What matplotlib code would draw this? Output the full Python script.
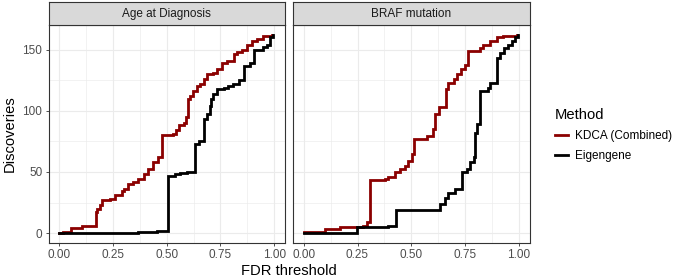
import numpy as np
import matplotlib
matplotlib.use("Agg")
import matplotlib.pyplot as plt
from matplotlib.lines import Line2D

plt.rcParams["font.family"] = ["Liberation Sans", "DejaVu Sans"]

# ---- data ----
panels = ["Age at Diagnosis", "BRAF mutation"]
methods = ["KDCA (Combined)", "Eigengene"]
colors = {"KDCA (Combined)": "#8B0000", "Eigengene": "#000000"}

age_kdca_x = [0, 0.019, 0.054, 0.104, 0.169, 0.177, 0.189, 0.200, 0.236, 0.259,
              0.290, 0.301, 0.321, 0.342, 0.368, 0.396, 0.415, 0.438, 0.457, 0.480,
              0.531, 0.543, 0.557, 0.578, 0.589, 0.598, 0.609, 0.624, 0.640, 0.655,
              0.671, 0.686, 0.717, 0.733, 0.756, 0.780, 0.811, 0.826, 0.849, 0.873,
              0.896, 0.919, 0.950, 0.989]
age_kdca_y = [0, 1, 4, 6, 17, 20, 23, 27, 28, 31, 34, 36, 40, 41.5, 44, 48, 52, 58,
              62, 80, 81, 84, 88, 90, 95, 110, 112, 116, 120, 122, 126, 130, 131,
              134, 139, 141, 146, 148, 150, 154, 157, 159, 161, 162]

age_eig_x = [0, 0.368, 0.453, 0.505, 0.539, 0.562, 0.593, 0.630, 0.652, 0.671,
             0.686, 0.699, 0.707, 0.717, 0.733, 0.764, 0.787, 0.810, 0.834, 0.857,
             0.888, 0.904, 0.950, 0.966, 0.978, 0.992]
age_eig_y = [0, 1, 2, 47, 48, 49, 50, 73, 75.5, 93, 97, 104, 109.5, 113.5, 117.6,
             119, 120, 122, 125, 136.6, 139, 150, 152, 154, 160, 162]

braf_kdca_x = [0, 0.099, 0.169, 0.277, 0.293, 0.308, 0.378, 0.393, 0.425, 0.448,
               0.471, 0.487, 0.502, 0.512, 0.572, 0.603, 0.611, 0.631, 0.662, 0.673,
               0.697, 0.715, 0.732, 0.751, 0.762, 0.821, 0.836, 0.867, 0.898, 0.929,
               0.990]
braf_kdca_y = [1, 3, 5, 6, 9, 43, 44, 46, 50, 52, 55, 59, 64.5, 77, 79.5, 85, 97,
               103, 117.5, 123, 126, 130, 134, 137, 149, 151, 154, 157, 160, 161.5,
               162]

braf_eig_x = [0, 0.249, 0.394, 0.430, 0.634, 0.658, 0.673, 0.704, 0.735, 0.759,
              0.774, 0.790, 0.797, 0.805, 0.821, 0.859, 0.867, 0.898, 0.914, 0.932,
              0.952, 0.968, 0.984, 0.995]
braf_eig_y = [0, 5, 6, 18.5, 24, 29, 33, 36, 49.7, 52, 58, 62, 82, 89, 116, 119,
              123, 143.5, 147.5, 151.5, 154, 157, 160, 162]

curves = {
    "Age at Diagnosis": {"KDCA (Combined)": (age_kdca_x, age_kdca_y),
                         "Eigengene": (age_eig_x, age_eig_y)},
    "BRAF mutation": {"KDCA (Combined)": (braf_kdca_x, braf_kdca_y),
                      "Eigengene": (braf_eig_x, braf_eig_y)},
}

W, H = 680, 280
fig = plt.figure(figsize=(W / 100, H / 100), dpi=100)

panel_left = [48.5, 293.0]
panel_w = 236.5
panel_top, panel_bot = 25.0, 243.0
strip_top = 2.0
LW = 2.0

grid_col = "#ebebeb"
for i, name in enumerate(panels):
    l = panel_left[i] / W
    ax = fig.add_axes([l, (H - panel_bot) / H, panel_w / W, (panel_bot - panel_top) / H])
    for m in methods:
        x, y = curves[name][m]
        ax.plot(x, y, drawstyle="steps-post", color=colors[m], lw=LW,
                solid_joinstyle="miter", zorder=3)
    ax.set_xlim(-0.05, 1.05)
    ax.set_ylim(-8.1, 170.1)
    ax.set_xticks([0, 0.25, 0.5, 0.75, 1.0])
    ax.set_xticklabels(["0.00", "0.25", "0.50", "0.75", "1.00"])
    ax.set_xticks([0.125, 0.375, 0.625, 0.875], minor=True)
    ax.set_yticks([0, 50, 100, 150])
    ax.set_yticks([25, 75, 125], minor=True)
    ax.grid(True, which="major", color=grid_col, lw=0.8, zorder=0)
    ax.grid(True, which="minor", color=grid_col, lw=0.45, zorder=0)
    ax.tick_params(which="minor", length=0)
    ax.tick_params(which="major", length=2.5, width=0.6, color="#333333",
                   labelsize=8.5, labelcolor="#4d4d4d", pad=2)
    if i > 0:
        ax.tick_params(axis="y", left=False, labelleft=False)
    for s in ax.spines.values():
        s.set_color("#333333")
        s.set_linewidth(0.8)
    ax.set_axisbelow(True)

    # facet strip
    sax = fig.add_axes([l, (H - panel_top) / H, panel_w / W, (panel_top - strip_top) / H])
    sax.set_facecolor("#d9d9d9")
    sax.set_xticks([])
    sax.set_yticks([])
    for s in sax.spines.values():
        s.set_color("#333333")
        s.set_linewidth(0.8)
    sax.text(0.5, 0.48, name, ha="center", va="center", fontsize=8.5,
             color="#1a1a1a", transform=sax.transAxes)

fig.text(289 / W, 1 - 271 / H, "FDR threshold", ha="center", va="center", fontsize=10.6)
fig.text(10 / W, 1 - 134 / H, "Discoveries", ha="center", va="center",
         rotation=90, fontsize=10.6)

handles = [Line2D([0], [0], color=colors[m], lw=LW) for m in methods]
leg = fig.legend(handles, methods, title="Method", loc="upper left",
                 bbox_to_anchor=(544 / W, 1 - 97 / H), frameon=False,
                 fontsize=8.5, title_fontsize=10.6, handlelength=1.1,
                 handletextpad=0.6, labelspacing=0.7, alignment="left")

fig.savefig("out.png", dpi=100)
